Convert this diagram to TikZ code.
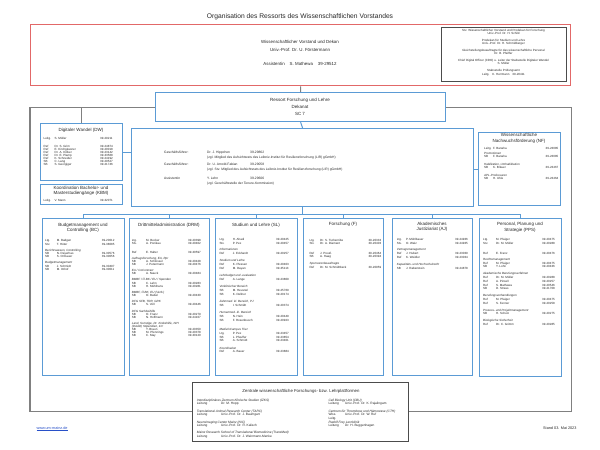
\documentclass[tikz,border=0pt]{standalone}
\usepackage{fontspec}
\setmainfont{Liberation Sans}
\usetikzlibrary{positioning}
\definecolor{umblau}{RGB}{91,155,213}
\definecolor{umrot}{RGB}{226,104,104}
\definecolor{umgrau}{RGB}{128,128,128}
\definecolor{umlink}{RGB}{40,80,200}
\tikzset{
box/.style={draw=umblau, line width=1.2pt, inner sep=0pt, anchor=north west},
grau box/.style={draw=black!70, line width=0.7pt, inner sep=0pt, anchor=north west},
linie/.style={draw=umblau, line width=1pt},
rahmen/.style={draw=umgrau, line width=1.1pt},
titel/.style={font=\fontsize{4.5}{5.3}\selectfont, align=center, anchor=base, inner sep=0pt},
liste/.style={font=\fontsize{3}{#1}\selectfont, anchor=base west, inner sep=0pt},
}
\newcommand{\kopf}[1]{\multicolumn{3}{@{}l@{}}{\itshape #1}}
\newcommand{\kopfzwei}[1]{\multicolumn{2}{@{}l@{}}{\itshape #1}}
\newcommand{\liste}[3]{\begin{tabular}[t]{@{}p{#1}@{}p{#2}@{}l@{}}#3\end{tabular}}

\begin{document}
\begin{tikzpicture}[x=1pt, y=-1pt, text=black!85]
\useasboundingbox (0,0) rectangle (600,450);

\node[font=\fontsize{6.7}{8}\selectfont, anchor=base] (titel) at (300,18) {Organisation des Ressorts des Wissenschaftlichen Vorstandes};

% Vorstand (bei mehrzeiligen Knoten liegt base auf der letzten Zeile)
\node[draw=umrot, line width=1.3pt, inner sep=0pt, anchor=north west, minimum width=540pt, minimum height=61pt] (vorstand) at (30,24) {};
\node[font=\fontsize{4.4}{8}\selectfont, align=center, anchor=base] (vorstand-text) at (300,65.5)
  {Wissenschaftlicher Vorstand und Dekan\\Univ.-Prof. Dr. U. Förstermann\\[6pt]
   Assistentin\hspace{5pt}S. Mathewa\hspace{5pt}39-29512};
\node[grau box, minimum width=125pt, minimum height=54pt] (stab) at (441,27) {};
\node[font=\fontsize{3}{3.4}\selectfont, align=center, anchor=base] (stab-text) at (503.5,75)
  {Stv. Wissenschaftlicher Vorstand und Prodekan für Forschung\\Univ.-Prof. Dr. H. Schild\\[3.2pt]
   Prodekan für Studium und Lehre\\Univ.-Prof. Dr. H. Schmidberger\\[3.2pt]
   Gleichstellungsbeauftragte für das wissenschaftliche Personal\\Dr. B. Pfeiffer\\[3.2pt]
   Chief Digital Officer (CDO) u. Leiter der Stabsstelle Digitaler Wandel\\S. Müller\\[3.6pt]
   Stabsstelle Prüfungsamt\\Leitg.\quad K. Herrmann\quad 39-20411};

% Ressort
\node[box, minimum width=290pt, minimum height=29pt] (ressort) at (155,92) {};
\node[font=\fontsize{4.5}{7}\selectfont, align=center, anchor=base] (ressort-text) at (300,115.5)
  {Ressort Forschung und Lehre\\Dekanat\\SC 7};

\node[box, minimum width=342pt, minimum height=78pt] (gf) at (131,128) {};
\node[font=\fontsize{3.3}{5}\selectfont, anchor=base west, inner sep=0pt] (gf-text) at (164,153.2)
  {\begin{tabular}[t]{@{}p{43pt}@{}p{43pt}@{}l@{}}
   Geschäftsführer: & Dr. J. Hippchen & 39-29862\\
   & \multicolumn{2}{@{}l@{}}{(zgl. Mitglied des Aufsichtsrats des Leibniz-Institut für Resilienzforschung (LIR) gGmbH)}\\[2.3pt]
   Geschäftsführer: & Dr. U. Arnold-Fabian & 39-29058\\
   & \multicolumn{2}{@{}l@{}}{(zgl. Stv. Mitglied des Aufsichtsrats des Leibniz-Institut für Resilienzforschung (LIR) gGmbH)}\\[3.7pt]
   Assistentin & Y. Lehn & 39-29606\\
   & \multicolumn{2}{@{}l@{}}{(zgl. Geschäftsstelle der Tenure-Kommission)}
   \end{tabular}};

\node[box, minimum width=82pt, minimum height=57pt] (dw) at (40,123) {};
\node[titel] (dw-titel) at (81,131) {Digitaler Wandel (DW)};
\node[liste=3.1] (dw-liste) at (43.5,139.4) {\liste{11pt}{45.5pt}{
  Leitg. & S. Müller & 39-29211\\[4.5pt]
  Ref & Dr. S. Grim & 39-24874\\
  Ref & E. Kirchgässner & 39-20018\\
  Ref & Dr. A. Kölker & 39-23142\\
  Ref & Dr. E. Plamp & 39-33568\\
  Ref & K. Schneider & 39-24192\\
  SB & C. Lang & 39-29527\\
  SB & S. Georgiger & 39-21746}};

\node[box, minimum width=82pt, minimum height=20pt] (kbm) at (40,184) {};
\node[titel] (kbm-titel) at (81,194.3) {Koordination Bachelor- und\\Masterstudiengänge (KBM)};
\node[liste=3.1] (kbm-liste) at (43.5,201.6) {\liste{11pt}{45.5pt}{Leitg. & V. Mann & 39-32071}};

\node[box, minimum width=82pt, minimum height=73pt] (nf) at (478,132) {};
\node[titel] (nf-titel) at (519,142.2) {Wissenschaftliche\\Nachwuchsförderung (NF)};
\node[liste=3.4] (nf-liste) at (484,149.4) {\liste{9pt}{52.5pt}{
  Leitg. & F. Banaha & 39-23085\\[1.6pt]
  \kopf{Promotionen}\\
  SB & F. Banaha & 39-23085\\[4pt]
  \kopf{Habilitation, Umhabilitation}\\
  SB & K. Bräuer & 39-23467\\[4.5pt]
  \kopf{APL-Professuren}\\
  SB & H. Uhle & 39-23464}};

% Abteilungen
\node[box, minimum width=82pt, minimum height=157pt] (bc) at (42,218) {};
\node[box, minimum width=80pt, minimum height=157pt] (drm) at (129,218) {};
\node[box, minimum width=82pt, minimum height=157pt] (sl) at (215,218) {};
\node[box, minimum width=80pt, minimum height=157pt] (forsch) at (303,218) {};
\node[box, minimum width=80pt, minimum height=157pt] (aj) at (392,218) {};
\node[box, minimum width=82pt, minimum height=158pt] (pps) at (479,218) {};

\node[titel] (bc-titel) at (83,231.4) {Budgetmanagement und\\Controlling (BC)};
\node[titel] (drm-titel) at (169,226.1) {Drittmitteladministration (DRM)};
\node[titel] (sl-titel) at (256,226.1) {Studium und Lehre (SL)};
\node[titel] (forsch-titel) at (343,225.4) {Forschung (F)};
\node[titel] (aj-titel) at (432,230.7) {Akademisches\\Justiziariat (AJ)};
\node[titel] (pps-titel) at (520,231.1) {Personal, Planung und\\Strategie (PPS)};

\node[liste=3.2] (bc-liste) at (45,241.8) {\liste{11.7pt}{45pt}{
  Ltg. & M. Badgen & 39-20012\\
  Stv. & T. Hüter & 39-38085\\[3pt]
  \kopf{Berichtswesen, Controlling}\\
  SB & N. Dayerhas & 39-30576\\
  SB & S. Ormauer & 39-30056\\[3pt]
  \kopf{Budgetmanagement}\\
  SB & J. Schmidt & 39-30497\\
  SB & M. Imhof & 39-30011}};

\node[liste=3.1] (drm-liste) at (131.7,241.8) {\liste{14.3pt}{42pt}{
  Ltg. & M. Becker & 39-20398\\
  Stv. & A. Ponikau & 39-20402\\[5pt]
  Ref & E. Halter & 39-30597\\[3pt]
  \kopf{Auftragsforschung, EA, Rpr}\\
  SB & A. Schlosser & 39-20428\\
  SB & J. Petermann & 39-20476\\[3pt]
  \kopf{EA / CoContract}\\
  SB & A. Nauck & 39-20484\\[3pt]
  \kopf{BMBF / Ö.BK / EU / Spenden}\\
  SB & C. Lahn & 39-20283\\
  SB & H. Mühlhans & 39-20281\\[3pt]
  \kopf{BMBF, Ö.BK, EU (Verb.)}\\
  SB & O. Babel & 39-20430\\[3pt]
  \kopf{DFG SFB, TRR, GRK}\\
  SB & S. Voll & 39-20446\\[3pt]
  \kopf{DFG Sachbeihilfe}\\
  SB & O. Franz & 39-20279\\
  SB & N. Hoffmann & 39-24107\\[3pt]
  \kopf{Land, Sonstige, Dt. Krebshilfe, NIH}\\
  \kopf{(DAAD) Stipendien, ILV}\\
  SB & Y. Braun & 39-20350\\
  SB & M. Pfennings & 39-20378\\
  SB & C. May & 39-30120}};

\node[liste=3.9] (sl-liste) at (219.3,240.4) {\liste{13.4pt}{43.3pt}{
  Ltg. & H. Ahadi & 39-20425\\
  Stv. & P. Pex & 39-20457\\[2.5pt]
  \kopf{Informationen}\\
  Ref & J. Eckhardt & 39-20257\\[3.2pt]
  \kopf{Studium und Lehre}\\
  Ref & K. Plessen & 39-20403\\
  Ref & M. Dayan & 39-35113\\[3.2pt]
  \kopf{Lehrbudget und -evaluation}\\
  Ref & A. Lange & 39-23809\\[3.2pt]
  \kopf{Vorklinischer Bereich}\\
  SB & M. Heusnel & 39-25769\\
  SB & K. Dellner & 39-20174\\[3.2pt]
  \kopf{Zahnmed. kl. Bereich, PJ}\\
  SB & I. Schmidt & 39-20374\\[3.2pt]
  \kopf{Humanmed. kl. Bereich}\\
  SB & N. Hein & 39-20449\\
  SB & F. Rosenbusch & 39-20923\\[5pt]
  \kopf{MedizinCampus Trier}\\
  Ltg. & P. Pex & 39-23457\\
  SB & L. Pfeuffer & 39-23854\\
  SB & A. Schmidt & 39-23401\\[3.2pt]
  \kopf{Koordination}\\
  Ref & A. Bauer & 39-23884}};

\node[liste=3.4] (forsch-liste) at (309.3,241.1) {\liste{10.7pt}{48.3pt}{
  Ltg. & Dr. S. Tschernibe & 39-20333\\
  Stv. & Dr. A. Diamant & 39-20403\\[6.5pt]
  Ref & J. Preuß & 39-20464\\
  SB & A. Haag & 39-20394\\[3.5pt]
  \kopf{Sponsorenbeauftragte}\\
  Ref & Dr. M. Schmidtbeck & 39-20959}};

\node[liste=3.7] (aj-liste) at (396.7,240.4) {\liste{9.3pt}{49pt}{
  Ltg. & P. Mühlbauer & 39-24936\\
  Stv. & O. Walz & 39-24935\\[3pt]
  \kopf{Vertragsmanagement}\\
  Ref & J. Hubert & 39-23039\\
  Ref & K. Weidler & 39-23034\\[3.5pt]
  \kopf{Kapazitäts- und Hochschulrecht}\\
  SB & J. Rabenstein & 39-24878}};

\node[liste=3.8] (pps-liste) at (483,240.4) {\liste{13pt}{46pt}{
  Ltg. & M. Pfaiger & 39-20475\\
  Stv. & Dr. M. Müller & 39-20288\\[6pt]
  Ref & E. Franz & 39-20476\\[2.5pt]
  \kopf{Rechtsmanagement}\\
  Ref & M. Pfaiger & 39-20475\\
  SB & Y. Lohn & 39-20436\\[3pt]
  \kopf{Akademische Berufungsverfahren}\\
  Ref & Dr. M. Müller & 39-20288\\
  Ref & A. Pinsell & 39-20257\\
  Ref & S. Mathewa & 39-20546\\
  SB & D. Strass & 39-21708\\[3pt]
  \kopf{Berufungsverhandlungen}\\
  Ref & M. Pfaiger & 39-20475\\
  Ref & S. Fenner & 39-20258\\[3pt]
  \kopf{Prozess- und Projektmanagement}\\
  SB & H. Schulz & 39-20275\\[3pt]
  \kopf{Biologische Sicherheit}\\
  Ref & Dr. C. Grimm & 39-20285}};

% Plattformen
\node[grau box, minimum width=216pt, minimum height=59pt] (plattform) at (192,382) {};
\node[font=\fontsize{4.3}{5}\selectfont, anchor=base] (plattform-titel) at (301,392.3) {Zentrale wissenschaftliche Forschungs- bzw. Lehrplattformen};
\node[font=\fontsize{3.2}{3.5}\selectfont, anchor=base west, inner sep=0pt] (plattform-links) at (196.7,401.4)
  {\begin{tabular}[t]{@{}p{24.3pt}@{}l@{}}
   \kopfzwei{Interdisziplinäres Zentrum Klinische Studien (IZKS)}\\
   Leitung & Dr. M. Hopp\\[3.8pt]
   \kopfzwei{Translational Animal Research Center (TARC)}\\
   Leitung & Univ.-Prof. Dr. J. Baumgart\\[3.8pt]
   \kopfzwei{Neuroimaging Center Mainz (NIC)}\\
   Leitung & Univ.-Prof. Dr. R. Kalisch\\[3.8pt]
   \kopfzwei{Mainz Research School of Translational Biomedicine (TransMed)}\\
   Leitung & Univ.-Prof. Dr. J. Weinmann-Menke
   \end{tabular}};
\node[font=\fontsize{3.2}{3.5}\selectfont, anchor=base west, inner sep=0pt] (plattform-rechts) at (328.3,401.4)
  {\begin{tabular}[t]{@{}p{16.7pt}@{}l@{}}
   \kopfzwei{Cell Biology Unit (CBU)}\\
   Leitung & Univ.-Prof. Dr. K. Rajalingam\\[3.8pt]
   \kopfzwei{Centrum für Thrombose und Hämostase (CTH)}\\
   Wiss. Leitg. & Univ.-Prof. Dr. W. Ruf\\[3.8pt]
   \kopfzwei{Rudolf Frey Lernklinik}\\
   Leitung & Dr. H. Buggenhagen
   \end{tabular}};

\node[font=\fontsize{3.8}{4.5}\selectfont, anchor=base west, text=umlink] (web) at (33,429) {\underline{www.um-mainz.de}};
\node[font=\fontsize{3.8}{4.5}\selectfont, anchor=base east] (stand) at (580,429) {Stand 03. Mai 2023};

% Verbindungen
\draw[rahmen] (vorstand.south) -- (ressort.north);
\draw[rahmen] (ressort.west) -- (ressort.west -| vorstand.west) -- (plattform.west -| vorstand.west) -- (plattform.west);
\draw[rahmen] (ressort.east) -- (ressort.east -| vorstand.east) -- (plattform.east -| vorstand.east) -- (plattform.east);
\draw[rahmen] (dw.north) -- (dw.north |- ressort.west);

\draw[linie] (ressort.south) -- (gf.north);
\draw[linie] (dw.east) -- (dw.east -| gf.west);
\draw[linie] (nf.west) -- (nf.west -| gf.east);
\coordinate[below=7pt of gf.south] (schiene);
\draw[linie] (gf.south) -- (schiene);
\draw[linie] (bc.north) -- (bc.north |- schiene) -- (pps.north |- schiene) -- (pps.north);
\foreach \abt in {drm,sl,forsch,aj}
  \draw[linie] (\abt.north) -- (\abt.north |- schiene);
\end{tikzpicture}
\end{document}
